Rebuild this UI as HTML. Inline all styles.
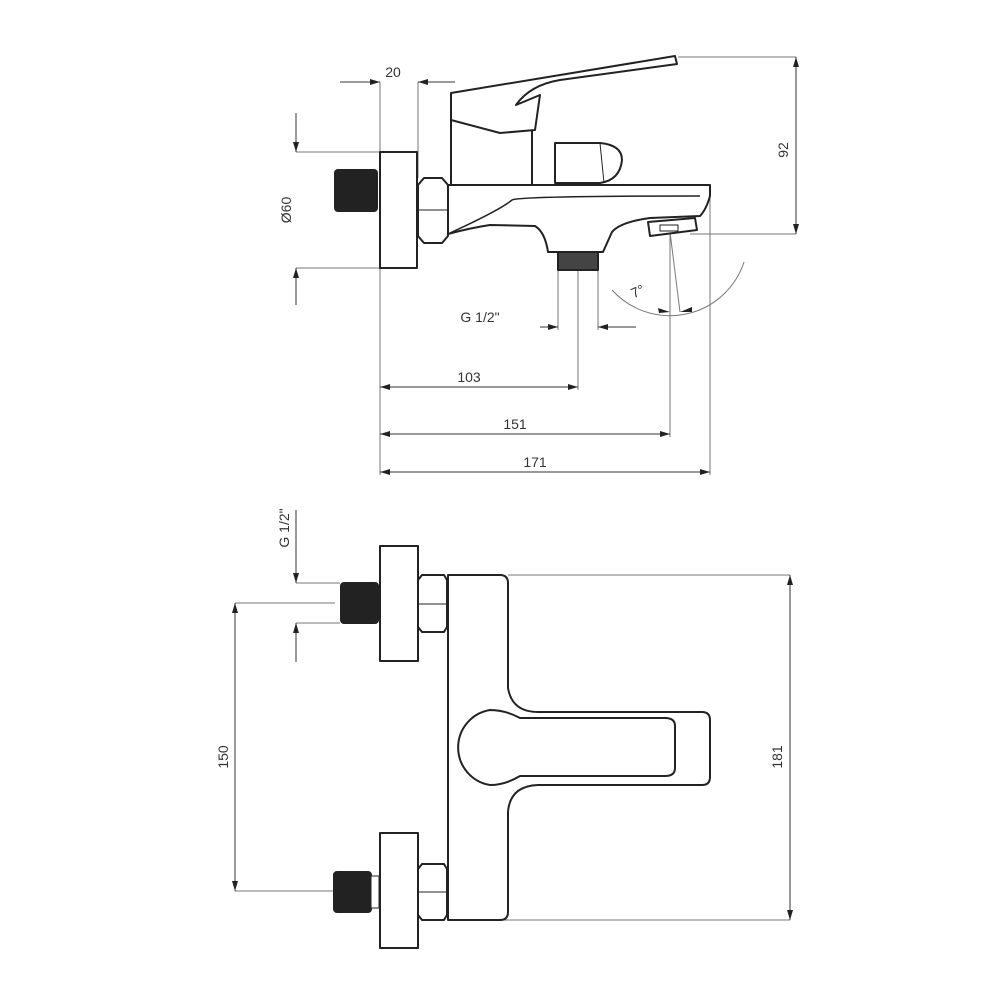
<!DOCTYPE html>
<html><head><meta charset="utf-8"><style>html,body{margin:0;padding:0;background:#fff}svg{display:block}</style></head>
<body>
<svg width="1000" height="1000" viewBox="0 0 1000 1000" xmlns="http://www.w3.org/2000/svg">
<defs>
<marker id="a" viewBox="0 0 10 6" refX="10" refY="3" markerWidth="10" markerHeight="6" orient="auto-start-reverse" markerUnits="userSpaceOnUse"><path d="M0,0 L10,3 L0,6 z" fill="#222"/></marker>
</defs>
<rect width="1000" height="1000" fill="#fff"/>
<g font-family="Liberation Sans, sans-serif" font-size="14" fill="#333" text-anchor="middle">
<g stroke="#777" stroke-width="1" fill="none">
<line x1="380" y1="82" x2="380" y2="152"/><line x1="418" y1="82" x2="418" y2="178"/>
<line x1="296" y1="152" x2="380" y2="152"/><line x1="296" y1="268" x2="380" y2="268"/>
<line x1="678" y1="57" x2="796" y2="57"/><line x1="690" y1="234" x2="796" y2="234"/>
<line x1="558" y1="270" x2="558" y2="330"/><line x1="598" y1="270" x2="598" y2="330"/>
<line x1="578" y1="240" x2="578" y2="390"/><line x1="670" y1="232" x2="670" y2="437"/>
<line x1="670" y1="232" x2="680" y2="312"/>
<line x1="710" y1="195" x2="710" y2="475"/><line x1="380" y1="268" x2="380" y2="475"/>
<path d="M744,262 A78,78 0 0 1 612,290"/>
<line x1="296" y1="583" x2="340" y2="583"/><line x1="296" y1="623" x2="340" y2="623"/>
<line x1="235" y1="603" x2="335" y2="603"/><line x1="235" y1="891" x2="335" y2="891"/>
<line x1="508" y1="575" x2="790" y2="575"/><line x1="448" y1="920" x2="790" y2="920"/>
</g>
<path d="M670,312 L658,308 L659,313 Z M680,312 L692,307 L692,312 Z" fill="#222"/>
<g stroke="#333" stroke-width="1" fill="none">
<line x1="340" y1="82" x2="380" y2="82" marker-end="url(#a)"/><line x1="455" y1="82" x2="418" y2="82" marker-end="url(#a)"/>
<line x1="296" y1="113" x2="296" y2="152" marker-end="url(#a)"/><line x1="296" y1="305" x2="296" y2="268" marker-end="url(#a)"/>
<line x1="796" y1="57" x2="796" y2="234" marker-start="url(#a)" marker-end="url(#a)"/>
<line x1="540" y1="327" x2="558" y2="327" marker-end="url(#a)"/><line x1="636" y1="327" x2="598" y2="327" marker-end="url(#a)"/>
<line x1="380" y1="387" x2="578" y2="387" marker-start="url(#a)" marker-end="url(#a)"/>
<line x1="380" y1="434" x2="670" y2="434" marker-start="url(#a)" marker-end="url(#a)"/>
<line x1="380" y1="472" x2="710" y2="472" marker-start="url(#a)" marker-end="url(#a)"/>
<line x1="296" y1="510" x2="296" y2="583" marker-end="url(#a)"/><line x1="296" y1="662" x2="296" y2="623" marker-end="url(#a)"/>
<line x1="235" y1="603" x2="235" y2="891" marker-start="url(#a)" marker-end="url(#a)"/>
<line x1="790" y1="575" x2="790" y2="920" marker-start="url(#a)" marker-end="url(#a)"/>
</g>
<text x="393" y="77">20</text>
<text transform="translate(291,210) rotate(-90)">Ø60</text>
<text transform="translate(788,150) rotate(-90)">92</text>
<text x="480" y="322">G 1/2"</text>
<text x="469" y="382">103</text>
<text x="515" y="429">151</text>
<text x="535" y="467">171</text>
<text x="638" y="296" transform="rotate(-25 638 292)">7°</text>
<text transform="translate(289,528) rotate(-90)">G 1/2"</text>
<text transform="translate(228,757) rotate(-90)">150</text>
<text transform="translate(782,757) rotate(-90)">181</text>
</g>
<!-- TOP VIEW -->
<g stroke="#222" stroke-width="2" fill="#fff" stroke-linejoin="round">
<rect x="380" y="152" width="37" height="116"/>
<rect x="335" y="170" width="42" height="41" rx="3" fill="#222"/>
<path d="M418,185 L424,178 L442,178 L448,185 L448,236 L442,243 L424,243 L418,236 Z"/>
<line x1="418" y1="210" x2="448" y2="210" stroke-width="1"/>
<rect x="451" y="120" width="81" height="65"/>
<path d="M451,93 L675,56 L677,64 L560,80 Q530,85 516,105 L540,95 L535,130 L500,133 L451,120 Z"/>
<path d="M555,143 L600,143 Q622,145 622,160 Q620,180 600,183 L555,183 Z"/>
<line x1="600" y1="143" x2="604" y2="183" stroke-width="1"/>
<path d="M448,185 L710,185 L710,196 Q706,210 700,216 L650,218 Q620,222 612,232 L603,252 L548,252 Q545,232 535,226 L490,225 Q470,228 448,234 Z"/>
<path d="M450,233 Q500,210 512,200 Q520,196 700,196" fill="none" stroke-width="1.5"/>
<path d="M648,222 L695,218 L697,230 L650,236 Z"/>
<rect x="660" y="225" width="18" height="6" stroke-width="1"/>
<rect x="558" y="252" width="40" height="18" fill="#444"/>
</g>
<!-- BOTTOM VIEW -->
<g stroke="#222" stroke-width="2" fill="#fff" stroke-linejoin="round">
<rect x="380" y="546" width="38" height="115"/>
<rect x="341" y="583" width="37" height="40" rx="3" fill="#222"/>
<path d="M418,580 L422,575 L444,575 L447,580 L447,627 L444,632 L422,632 L418,627 Z"/>
<line x1="418" y1="604" x2="447" y2="604" stroke-width="1"/>
<rect x="380" y="833" width="38" height="115"/>
<rect x="334" y="872" width="37" height="40" rx="3" fill="#222"/>
<rect x="371" y="876" width="8" height="32" stroke-width="1"/>
<path d="M418,869 L422,864 L444,864 L447,869 L447,915 L444,920 L422,920 L418,915 Z"/>
<line x1="418" y1="892" x2="447" y2="892" stroke-width="1"/>
<path d="M448,575 L500,575 Q508,575 508,583 L508,688 Q512,712 538,712 L702,712 Q710,712 710,720 L710,777 Q710,785 702,785 L538,785 Q510,786 508,812 L508,912 Q508,920 500,920 L448,920 Z"/>
<path d="M490,710 Q505,710 520,718 L665,718 Q675,718 675,726 L675,768 Q675,776 665,776 L520,776 Q505,785 490,785 A38,38 0 0 1 490,710 Z"/>
</g>
</svg>
</body></html>
